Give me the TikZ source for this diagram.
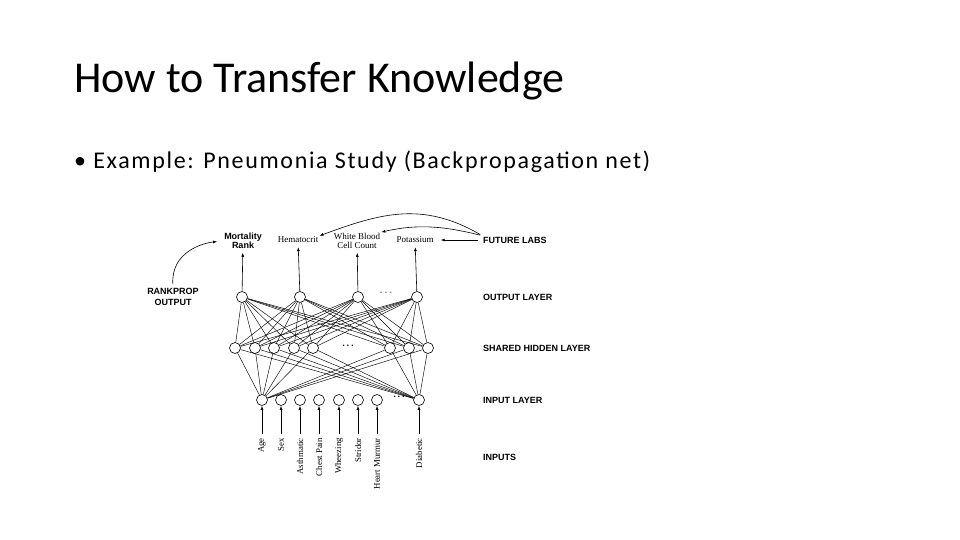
\documentclass[tikz,border=0pt]{standalone}
\usepackage{fontspec}
\setmainfont{Carlito}
\newfontfamily\bodyfont[LetterSpace=7]{Carlito}
\newfontfamily\labsans{Liberation Sans}
\newfontfamily\labserif{Liberation Serif}
\usetikzlibrary{arrows.meta,positioning}

\begin{document}
\begin{tikzpicture}[
    x=1pt, y=-1pt,
    unit/.style={draw, circle, minimum size=11pt, inner sep=0pt, line width=0.6pt},
    wire/.style={line width=0.45pt},
    line/.style={-{Latex[length=4pt,width=3pt]}, line width=0.6pt},
    capsbold/.style={font=\labsans\bfseries\fontsize{9}{9.5}\selectfont, align=center, inner sep=1pt},
    serifname/.style={font=\labserif\fontsize{9}{9}\selectfont, align=center, inner sep=1pt},
    inputname/.style={font=\labserif\fontsize{8.8}{9}\selectfont, rotate=90, anchor=east, inner sep=4pt}
]
    \useasboundingbox (0,0) rectangle (960,540);

    % Slide text
    \node[anchor=base west, inner sep=0pt, font=\fontsize{44}{50}\selectfont] (title) at (74,93) {How to Transfer Knowledge};
    \node[anchor=base west, inner sep=0pt, font=\bodyfont\fontsize{24}{28}\selectfont] (bullet) at (74,169) {\textbullet\ Example: Pneumonia Study (Backpropagation net)};

    % Output layer
    \node[unit] (o1) at (242,297) {};
    \node[unit] (o2) at (300,297) {};
    \node[unit] (o3) at (358,297) {};
    \node[unit] (o4) at (417,297) {};
    \node[font=\labsans\fontsize{7}{8}\selectfont] (odots) at (386,293) {-\,\,-\,\,-};

    % Shared hidden layer
    \node[unit] (h1) at (235,348) {};
    \node[unit] (h2) at (255,348) {};
    \node[unit] (h3) at (274,348) {};
    \node[unit] (h4) at (294,348) {};
    \node[unit] (h5) at (313,348) {};
    \node[unit] (h6) at (390,348) {};
    \node[unit] (h7) at (409,348) {};
    \node[unit] (h8) at (428,348) {};
    \node[font=\bfseries] (hdots) at (348,346) {.\,.\,.};

    % Input layer
    \node[unit] (i1) at (262,400) {};
    \node[unit] (i2) at (281,400) {};
    \node[unit] (i3) at (300,400) {};
    \node[unit] (i4) at (319,400) {};
    \node[unit] (i5) at (339,400) {};
    \node[unit] (i6) at (358,400) {};
    \node[unit] (i7) at (377,400) {};
    \node[unit] (i8) at (419,400) {};
    \node[font=\bfseries] (idots) at (399,397) {.\,.\,.};

    % Weights
    \foreach \o in {o1,o2,o3,o4}
        \foreach \h in {h1,h2,h3,h4,h5,h6,h7,h8}
            \draw[wire] (\o) -- (\h);
    \foreach \i in {i1,i8}
        \foreach \h in {h1,h2,h3,h4,h5,h6,h7,h8}
            \draw[wire] (\i) -- (\h);

    % Inputs
    \node[inputname] (age) at (262,434) {Age};
    \node[inputname] (sex) at (281,434) {Sex};
    \node[inputname] (asthma) at (300,434) {Asthmatic};
    \node[inputname] (chest) at (319,434) {Chest Pain};
    \node[inputname] (wheeze) at (339,434) {Wheezing};
    \node[inputname] (stridor) at (358,434) {Stridor};
    \node[inputname] (murmur) at (377,434) {Heart Murmur};
    \node[inputname] (diab) at (419,434) {Diabetic};
    \draw[line] (age) -- (i1);
    \draw[line] (sex) -- (i2);
    \draw[line] (asthma) -- (i3);
    \draw[line] (chest) -- (i4);
    \draw[line] (wheeze) -- (i5);
    \draw[line] (stridor) -- (i6);
    \draw[line] (murmur) -- (i7);
    \draw[line] (diab) -- (i8);

    % Outputs
    \node[capsbold] (mort) at (243,241) {Mortality\\[-1pt]Rank};
    \node[serifname] (hema) at (298,240) {Hematocrit};
    \node[serifname] (wbc) at (357,241) {White Blood\\Cell Count};
    \node[serifname] (potas) at (415,240) {Potassium};
    \draw[line, shorten >=3pt] (o1) -- (mort);
    \draw[line, shorten >=3pt] (o2) -- (hema);
    \draw[line, shorten >=3pt] (o3) -- (wbc);
    \draw[line, shorten >=3pt] (o4) -- (potas);

    % Side labels
    \node[capsbold, anchor=west] (future) at (482,240) {FUTURE LABS};
    \node[capsbold, anchor=west] (outlab) at (482,297) {OUTPUT LAYER};
    \node[capsbold, anchor=west] (hidlab) at (482,348) {SHARED HIDDEN LAYER};
    \node[capsbold, anchor=west] (inlab) at (482,400) {INPUT LAYER};
    \node[capsbold, anchor=west] (inputs) at (482,457) {INPUTS};
    \node[capsbold] (rank) at (173,297) {RANKPROP\\[2pt]OUTPUT};

    % Curved hints
    \draw[line, shorten <=4pt, shorten >=6pt] (future.west) -- (potas.east);
    \draw[line, shorten <=2pt] (future.north west) .. controls +(-40,-10) and +(35,-8) .. (wbc.north east);
    \draw[line, shorten <=2pt] (future.north west) .. controls +(-60,-35) and +(60,-22) .. (hema.north east);
    \draw[line, shorten <=3pt, shorten >=6pt] (rank.north) .. controls +(-2,-35) and +(-20,2) .. (mort.west);
\end{tikzpicture}
\end{document}
